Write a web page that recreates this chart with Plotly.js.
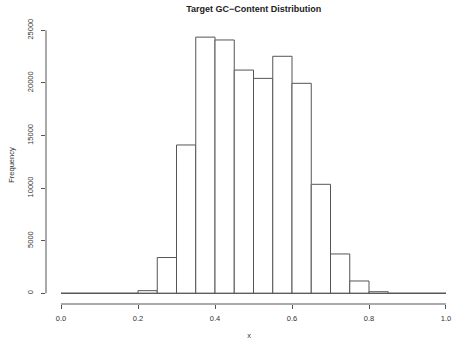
<!DOCTYPE html>
<html>
<head>
<meta charset="utf-8">
<script src="https://cdn.plot.ly/plotly-3.0.1.min.js"></script>
<style>html,body{margin:0;padding:0;background:#fff;}#chart{width:452px;height:341px;}</style>
</head>
<body>
<div id="chart"></div>
<script>
// Histogram bins (left edges) and counts
const binLeft = [0.00, 0.05, 0.10, 0.15, 0.20, 0.25, 0.30, 0.35, 0.40, 0.45,
                 0.50, 0.55, 0.60, 0.65, 0.70, 0.75, 0.80, 0.85, 0.90, 0.95];
const counts  = [0, 0, 0, 0, 250, 3400, 14100, 24350, 24080, 21220,
                 20430, 22530, 19960, 10360, 3740, 1170, 150, 0, 0, 0];
const binWidth = 0.05;
const xTicks = [0, 0.2, 0.4, 0.6, 0.8, 1.0];
const xTickText = ["0.0", "0.2", "0.4", "0.6", "0.8", "1.0"];
const yTicks = [0, 5000, 10000, 15000, 20000, 25000];
const yTickText = ["0", "5000", "10000", "15000", "20000", "25000"];

const lineCol = '#555555';
const textCol = '#333333';
const fontFam = 'Liberation Sans, Arial, Helvetica, sans-serif';

const trace = {
  type: 'bar',
  x: binLeft,
  y: counts,
  width: binWidth,
  offset: 0,
  marker: {color: '#ffffff', line: {color: lineCol, width: 1}},
  hoverinfo: 'x+y'
};

const layout = {
  width: 452, height: 341,
  margin: {l: 46, r: 0, t: 26, b: 37, pad: 0},
  paper_bgcolor: '#fff', plot_bgcolor: '#fff',
  showlegend: false,
  bargap: 0,
  font: {family: fontFam, size: 7.5, color: textCol},
  title: {
    text: '<b>Target GC\u2212Content Distribution</b>',
    font: {family: fontFam, size: 9, color: '#222'},
    x: 0.5116, xref: 'paper', xanchor: 'center',
    y: 1 - 9/341, yref: 'container', yanchor: 'middle'
  },
  xaxis: {
    range: [-0.039, 1.0156],
    tickvals: xTicks, ticktext: xTickText,
    ticks: 'outside', ticklen: 4, tickwidth: 1, tickcolor: lineCol,
    showline: false, zeroline: false, showgrid: false,
    ticklabelstandoff: 3,
    tickfont: {family: fontFam, size: 7.5, color: textCol},
    title: {text: 'x', font: {family: fontFam, size: 7.5, color: textCol}, standoff: 10}
  },
  yaxis: {
    range: [-1017, 25409],
    tickvals: yTicks, ticktext: yTickText,
    tickangle: -90,
    ticks: 'outside', ticklen: 4, tickwidth: 1, tickcolor: lineCol,
    showline: false, zeroline: false, showgrid: false,
    ticklabelstandoff: 5,
    tickfont: {family: fontFam, size: 7.5, color: textCol},
    title: {text: 'Frequency', font: {family: fontFam, size: 7.5, color: textCol}, standoff: 10}
  },
  shapes: [
    {type: 'line', xref: 'x', yref: 'paper', x0: xTicks[0], x1: xTicks[xTicks.length-1], y0: 0, y1: 0,
     line: {color: lineCol, width: 1}},
    {type: 'line', xref: 'paper', yref: 'y', x0: 0, x1: 0, y0: yTicks[0], y1: yTicks[yTicks.length-1],
     line: {color: lineCol, width: 1}},
    {type: 'line', xref: 'x', yref: 'y', x0: binLeft[0], x1: binLeft[binLeft.length-1] + binWidth, y0: 0, y1: 0,
     line: {color: lineCol, width: 1}}
  ]
};

Plotly.newPlot('chart', [trace], layout, {staticPlot: true, displayModeBar: false});
</script>
</body>
</html>
